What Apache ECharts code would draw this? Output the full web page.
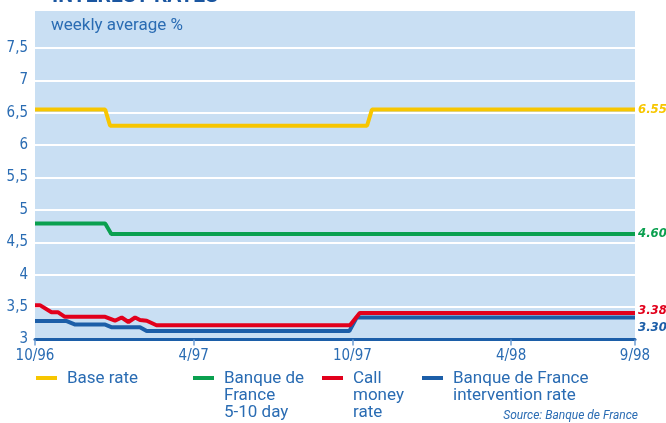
<!DOCTYPE html>
<html>
<head>
<meta charset="utf-8">
<script src="https://cdn.jsdelivr.net/npm/echarts@6/dist/echarts.min.js"></script>
<style>
  html, body { margin: 0; padding: 0; background: #ffffff; }
  #main { width: 666px; height: 423px; }
</style>
</head>
<body>
<div id="main"></div>
<script>
// x values are weeks counted from the start of October 1996
var baseWeeks = [0, 11.5, 12.3, 54.4, 55.2, 98.3];
var baseRate = [6.55, 6.55, 6.30, 6.30, 6.55, 6.55];

var bdfWeeks = [0, 11.5, 12.5, 98.3];
var bdf510 = [4.79, 4.79, 4.63, 4.63];

var callWeeks = [0, 0.8, 2.7, 3.8, 4.9, 11.5, 13.1, 14.2, 15.3, 16.4, 17.2, 18.3, 19.9, 51.6, 53.2, 98.3];
var callMoney = [3.53, 3.53, 3.42, 3.42, 3.35, 3.35, 3.29, 3.34, 3.27, 3.34, 3.30, 3.29, 3.22, 3.22, 3.41, 3.41];

var intWeeks = [0, 5.2, 6.6, 11.5, 12.5, 17.2, 18.3, 51.5, 52.7, 98.3];
var intervention = [3.285, 3.285, 3.23, 3.23, 3.19, 3.19, 3.13, 3.13, 3.34, 3.34];

var tickWeeks = [0, 26, 52, 78, 98.3];
var tickLabels = ['10/96', '4/97', '10/97', '4/98', '9/98'];

var endLabels = ['6.55', '4.60', '3.38', '3.30'];
var seriesNames = ['Base rate', 'Banque de France 5-10 day', 'Call money rate', 'Banque de France intervention rate'];
var legendLines = [['Base rate'], ['Banque de', 'France', '5-10 day'], ['Call', 'money', 'rate'], ['Banque de France', 'intervention rate']];

var colors = ['#f7c600', '#0aa04f', '#e2001c', '#1c5ea8'];
var textBlue = '#2a6cb3';
var narrow = '"Liberation Sans Narrow", "DejaVu Sans Condensed", sans-serif';
var plain = 'Roboto, "Open Sans", sans-serif';

var chartDom = document.getElementById('main');
var myChart = echarts.init(chartDom, null, { renderer: 'canvas' });

function pairs(xs, ys) {
    return xs.map(function (x, i) { return [x, ys[i]]; });
}

function buildSeries() {
    var sets = [
        [baseWeeks, baseRate],
        [bdfWeeks, bdf510],
        [callWeeks, callMoney],
        [intWeeks, intervention]
    ];
    var labelOffsets = [[0, 0], [0, 0], [0, -2], [0, 10]];
    return sets.map(function (s, i) {
        return {
            name: seriesNames[i],
            type: 'line',
            data: pairs(s[0], s[1]),
            showSymbol: false,
            symbol: 'none',
            z: 10 - i,
            lineStyle: { color: colors[i], width: 4 },
            itemStyle: { color: colors[i] },
            endLabel: {
                show: true,
                formatter: endLabels[i],
                color: colors[i],
                fontFamily: narrow,
                fontWeight: 'bold',
                fontStyle: 'italic',
                fontSize: 13,
                distance: 3,
                offset: labelOffsets[i]
            }
        };
    });
}

function buildLegend() {
    var xs = [36, 193, 322, 422];
    var items = [];
    legendLines.forEach(function (lines, i) {
        items.push({
            type: 'rect',
            shape: { x: xs[i], y: 376, width: 21, height: 4 },
            style: { fill: colors[i] }
        });
        items.push({
            type: 'text',
            x: xs[i] + 31,
            y: 370,
            style: {
                text: lines.join('\n'),
                fill: textBlue,
                font: '17px ' + plain,
                lineHeight: 17
            }
        });
    });
    return items;
}

var graphics = [
    {
        type: 'rect',
        z: -10,
        silent: true,
        shape: { x: 35, y: 11, width: 600, height: 329 },
        style: { fill: '#c9dff3' }
    },
    {
        type: 'text',
        x: 52,
        y: 7,
        style: {
            text: 'INTEREST RATES',
            fill: '#1b56a0',
            font: 'bold 21px ' + plain,
            verticalAlign: 'bottom'
        }
    },
    {
        type: 'text',
        x: 51,
        y: 17,
        style: {
            text: 'weekly average %',
            fill: textBlue,
            font: '17px ' + plain
        }
    },
    {
        type: 'text',
        x: 638,
        y: 416,
        style: {
            text: 'Source: Banque de France',
            fill: textBlue,
            font: 'italic 12px ' + plain,
            align: 'right',
            verticalAlign: 'middle'
        }
    }
].concat(buildLegend());

var option = {
    animation: false,
    grid: { left: 35, right: 31, top: 48, bottom: 83.5 },
    xAxis: {
        type: 'value',
        min: 0,
        max: 98.3,
        splitLine: { show: false },
        axisLine: { show: true, lineStyle: { color: '#1c5ea8', width: 3 } },
        axisTick: {
            show: true,
            customValues: tickWeeks,
            length: 6,
            lineStyle: { color: '#6d9dd3', width: 1.5 }
        },
        axisLabel: {
            customValues: tickWeeks,
            formatter: function (v) {
                var i = tickWeeks.indexOf(v);
                return i >= 0 ? tickLabels[i] : '';
            },
            color: textBlue,
            fontFamily: narrow,
            fontSize: 15,
            margin: 9
        }
    },
    yAxis: {
        type: 'value',
        min: 3,
        max: 7.5,
        interval: 0.5,
        axisLine: { show: false },
        axisTick: { show: false },
        splitLine: { lineStyle: { color: '#ffffff', width: 2 } },
        axisLabel: {
            formatter: function (v) { return String(v).replace('.', ','); },
            color: textBlue,
            fontFamily: narrow,
            fontSize: 15,
            margin: 7
        }
    },
    graphic: graphics,
    series: buildSeries()
};

myChart.setOption(option);

window.addEventListener('resize', function () {
    myChart.resize();
});
</script>
</body>
</html>
